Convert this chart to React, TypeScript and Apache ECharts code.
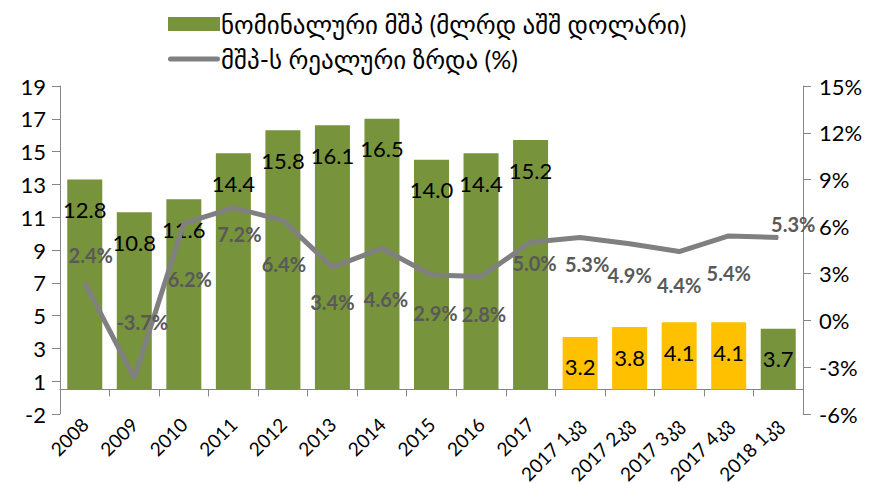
import React, { useEffect, useRef } from "react";
import * as echarts from "echarts";

const categories = [
  "2008", "2009", "2010", "2011", "2012", "2013", "2014", "2015", "2016", "2017",
  "2017 1კვ", "2017 2კვ", "2017 3კვ", "2017 4კვ", "2018 1კვ",
];
const nominalGdp = [12.8, 10.8, 11.6, 14.4, 15.8, 16.1, 16.5, 14.0, 14.4, 15.2, 3.2, 3.8, 4.1, 4.1, 3.7];
const realGrowth = [2.4, -3.7, 6.2, 7.2, 6.4, 3.4, 4.6, 2.9, 2.8, 5.0, 5.3, 4.9, 4.4, 5.4, 5.3];
const quarterCategories2017 = ["2017 1კვ", "2017 2კვ", "2017 3კვ", "2017 4კვ"];
const leftTickLabels = ["-2", "1", "3", "5", "7", "9", "11", "13", "15", "17", "19"];
const rightTickLabels = ["-6%", "-3%", "0%", "3%", "6%", "9%", "12%", "15%"];
const seriesNames = ["ნომინალური მშპ (მლრდ აშშ დოლარი)", "მშპ-ს რეალური ზრდა (%)"];

// label placement offsets for the growth line (px, relative to point)
const growthLabelDx = [6, 8, 6, 6, 1, 0, 4, 4, 3, 4, 7, 0, 0, 0, 15];
const growthLabelDy = [-28, -56, 56, 26, 44, 35, 51, 38, 37, 21, 26, 31, 33, 37, -14];

const GREEN = "#77933c";
const YELLOW = "#ffc000";
const LINE = "#808080";
const AXIS = "#868686";
const FONT = 'Lato, "DejaVu Sans", sans-serif';

const LEFT_MIN = -1.5;
const LEFT_INTERVAL = 2;
const RIGHT_MIN = -6;
const RIGHT_INTERVAL = 3;

const LINE_ICON = "path://M2.5,0 L49.5,0 A2.5,2.5 0 0 1 49.5,5 L2.5,5 A2.5,2.5 0 0 1 2.5,0 Z";

export default function App() {
  const ref = useRef<HTMLDivElement>(null);
  useEffect(() => {
    document.body.style.margin = "0";
    if (!ref.current) return;
    const chart = echarts.init(ref.current, undefined, { renderer: "svg" });
    chart.setOption({
      animation: false,
      backgroundColor: "#ffffff",
      textStyle: { fontFamily: FONT },
      legend: {
        orient: "vertical",
        left: 163,
        top: 6,
        itemWidth: 52,
        itemHeight: 14,
        itemGap: 9,
        textStyle: { fontSize: 25, lineHeight: 26, color: "#000", fontFamily: FONT, padding: [0, 0, 0, -4] },
        data: [
          { name: seriesNames[0], icon: "rect" },
          { name: seriesNames[1], icon: LINE_ICON },
        ],
      },
      grid: { left: 60, right: 74, top: 86, bottom: 70, outerBoundsMode: "none", containLabel: false },
      xAxis: {
        type: "category",
        data: categories,
        boundaryGap: true,
        axisLine: { show: true, onZero: true, onZeroAxisIndex: 0, lineStyle: { color: AXIS, width: 1 } },
        axisTick: { show: true, alignWithLabel: false, length: 7, lineStyle: { color: AXIS } },
        axisLabel: {
          rotate: 45,
          interval: 0,
          margin: 7,
          fontSize: 19,
          color: "#000",
          fontFamily: FONT,
        },
      },
      yAxis: [
        {
          type: "value",
          min: LEFT_MIN,
          max: 18.5,
          interval: LEFT_INTERVAL,
          splitLine: { show: false },
          axisLine: { show: true, lineStyle: { color: AXIS, width: 1 } },
          axisTick: { show: true, length: 8, lineStyle: { color: AXIS } },
          axisLabel: {
            fontSize: 22,
            color: "#000",
            margin: 14,
            fontFamily: FONT,
            formatter: (v: number) => leftTickLabels[Math.round((v - LEFT_MIN) / LEFT_INTERVAL)] ?? "",
          },
        },
        {
          type: "value",
          min: RIGHT_MIN,
          max: 15,
          interval: RIGHT_INTERVAL,
          splitLine: { show: false },
          axisLine: { show: true, lineStyle: { color: AXIS, width: 1 } },
          axisTick: { show: true, length: 8, lineStyle: { color: AXIS } },
          axisLabel: {
            fontSize: 22,
            color: "#000",
            margin: 16,
            fontFamily: FONT,
            formatter: (v: number) => rightTickLabels[Math.round((v - RIGHT_MIN) / RIGHT_INTERVAL)] ?? "",
          },
        },
      ],
      series: [
        {
          name: seriesNames[0],
          type: "bar",
          yAxisIndex: 0,
          barWidth: 35,
          itemStyle: { color: GREEN },
          data: nominalGdp.map((v, i) => ({
            value: v,
            itemStyle: { color: quarterCategories2017.includes(categories[i]) ? YELLOW : GREEN },
          })),
          label: {
            show: true,
            position: "insideTop",
            distance: 19,
            fontSize: 22,
            color: "#000",
            fontFamily: FONT,
            formatter: (p: any) => Number(p.value).toFixed(1),
          },
          z: 2,
        },
        {
          name: seriesNames[1],
          type: "line",
          yAxisIndex: 1,
          symbol: "circle",
          symbolSize: 1,
          itemStyle: { color: LINE },
          lineStyle: { color: LINE, width: 5 },
          data: realGrowth.map((v, i) => ({
            value: v,
            label: { offset: [growthLabelDx[i], growthLabelDy[i]] },
          })),
          label: {
            show: true,
            position: "inside",
            fontSize: 20,
            fontWeight: "bold",
            color: "#595959",
            fontFamily: FONT,
            formatter: (p: any) => Number(p.value).toFixed(1) + "%",
          },
          z: 3,
        },
      ],
    });
    return () => chart.dispose();
  }, []);
  return <div ref={ref} style={{ width: 877, height: 484 }} />;
}
